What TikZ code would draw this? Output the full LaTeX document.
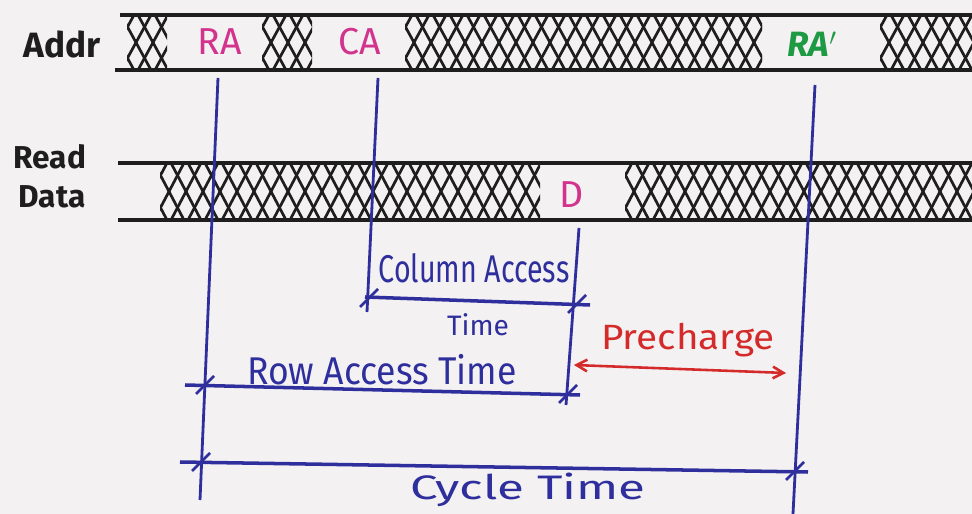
\documentclass[tikz,border=0pt]{standalone}
\usepackage{fontspec}
\setmainfont{Fira Sans}
\usetikzlibrary{arrows.meta}

\definecolor{paper}{HTML}{F4F1F3}
\definecolor{ink}{HTML}{2E2E9C}
\definecolor{pen}{HTML}{1E1E1E}
\definecolor{pinkpen}{HTML}{D2338C}
\definecolor{greenpen}{HTML}{1E9A44}
\definecolor{redpen}{HTML}{D42A2A}

\tikzset{
  busline/.style={draw=pen, line width=2.8pt},
  hatchline/.style={draw=pen, line width=2.3pt},
  guide/.style={draw=ink, line width=2.4pt},
  span/.style={draw=ink, line width=3pt},
  tickmark/.style={draw=ink, line width=2.2pt},
  txt/.style={inner sep=0pt, font=\fontsize{30}{36}\selectfont},
  sig/.style={txt, text=pen},
  val/.style={txt, font=\fontsize{32}{38}\selectfont},
  lbl/.style={txt, text=ink, font=\fontsize{33}{40}\selectfont},
}

% cross-hatched (undefined) stretch of a bus between #1 and #2, rails #3 and #4
\newcommand{\hatchbus}[4]{%
  \begin{scope}
    \clip (#1,#3) rectangle (#2,#4);
    \pgfmathtruncatemacro\hn{(#2-#1+60)/17}
    \foreach \k in {0,...,\hn} {
      \pgfmathsetmacro\hx{#1-40+17*\k}
      \draw[hatchline] (\hx,#3) -- ({\hx+30},#4);
      \draw[hatchline] (\hx,#4) -- ({\hx+30},#3);
    }
  \end{scope}}

% slanted tick through a named point
\newcommand{\spantick}[1]{\draw[tickmark] (#1) ++(-9,9) -- ++(18,-18);}

\begin{document}
\begin{tikzpicture}[x=0.03cm, y=-0.03cm]
  \useasboundingbox (0,0) rectangle (972,514);
  \fill[paper] (0,0) rectangle (972,514);

  % ---- address bus ----
  \node[sig, font=\fontsize{30}{36}\bfseries] (addr) at (62,44) {Addr};
  \hatchbus{127}{167}{15}{70}
  \hatchbus{262}{312}{15}{70}
  \hatchbus{405}{762}{15}{70}
  \hatchbus{880}{972}{15}{70}
  \coordinate (at0) at (120,15);  \coordinate (at1) at (972,15);
  \coordinate (ab0) at (115,70);  \coordinate (ab1) at (972,70);
  \draw[busline] (at0) -- (at1);
  \draw[busline] (ab0) -- (ab1);
  \node[val, text=pinkpen] (ra) at (220,42) {RA};
  \node[val, text=pinkpen] (ca) at (360,42) {CA};
  \node[val, text=greenpen, font=\fontsize{30}{36}\bfseries\itshape] (ra2) at (812,44) {RA$'$};

  % ---- read data bus ----
  \node[sig, font=\fontsize{27}{32}\bfseries] (read) at (50,157) {Read};
  \node[sig, font=\fontsize{27}{32}\bfseries] (data) at (52,197) {Data};
  \hatchbus{160}{540}{163}{220}
  \hatchbus{625}{972}{163}{220}
  \coordinate (dt0) at (118,163); \coordinate (dt1) at (972,163);
  \coordinate (db0) at (118,220); \coordinate (db1) at (972,220);
  \draw[busline] (dt0) -- (dt1);
  \draw[busline] (db0) -- (db1);
  \node[val, text=pinkpen] (d) at (572,195) {D};

  % ---- vertical reference lines ----
  \coordinate (v1a) at (218,78);  \coordinate (v1b) at (200,500);
  \coordinate (v2a) at (378,78);  \coordinate (v2b) at (367,312);
  \coordinate (v3a) at (579,228); \coordinate (v3b) at (566,405);
  \coordinate (v4a) at (815,85);  \coordinate (v4b) at (793,514);
  \draw[guide] (v1a) -- (v1b);
  \draw[guide] (v2a) -- (v2b);
  \draw[guide] (v3a) -- (v3b);
  \draw[guide] (v4a) -- (v4b);

  % ---- column access time ----
  \coordinate (cl) at (365,297); \coordinate (cr) at (590,305);
  \draw[span] (cl) -- (cr);
  \coordinate (clt) at (369,298); \coordinate (crt) at (577,304);
  \spantick{clt} \spantick{crt}
  \node[lbl, xscale=0.74] (colacc) at (474,268) {Column Access};
  \node[lbl, font=\fontsize{24}{28}\selectfont] (coltime) at (478,325) {Time};

  % ---- row access time ----
  \coordinate (rl) at (185,385); \coordinate (rr) at (580,395);
  \draw[span] (rl) -- (rr);
  \coordinate (rlt) at (205,385); \coordinate (rrt) at (568,394);
  \spantick{rlt} \spantick{rrt}
  \node[lbl, xscale=0.92] (rowacc) at (382,370) {Row Access Time};

  % ---- precharge ----
  \coordinate (pl) at (574,365); \coordinate (pr) at (786,373);
  \draw[draw=redpen, line width=2.2pt,
        {Straight Barb[length=9pt,width=10pt]}-{Straight Barb[length=9pt,width=10pt]}] (pl) -- (pr);
  \node[txt, text=redpen, font=\fontsize{30}{36}\selectfont, xscale=1.1] (pre) at (688,340) {Precharge};

  % ---- cycle time ----
  \coordinate (yl) at (180,462); \coordinate (yr) at (808,472);
  \draw[span] (yl) -- (yr);
  \coordinate (ylt) at (201,462); \coordinate (yrt) at (795,471);
  \spantick{ylt} \spantick{yrt}
  \node[lbl, font=\fontsize{29}{35}\selectfont, xscale=1.45] (cycle) at (528,490) {Cycle Time};
\end{tikzpicture}
\end{document}
